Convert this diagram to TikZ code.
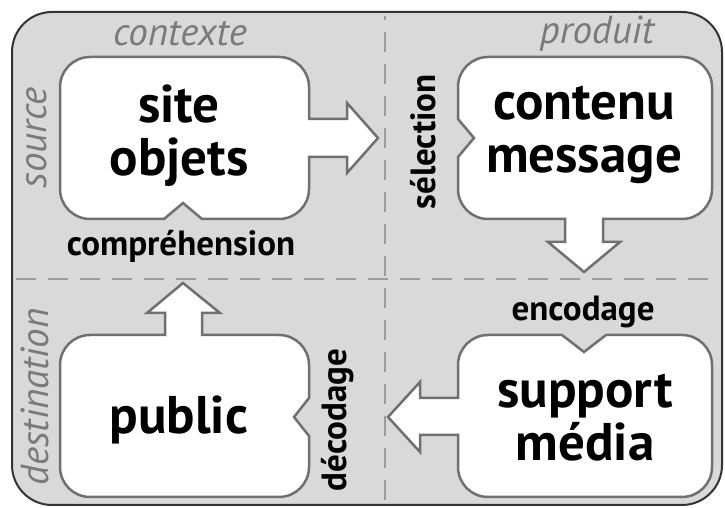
\documentclass[tikz,border=0pt]{standalone}
\usepackage{fontspec}
\setmainfont{PT Sans}
\usepackage{tikz}
\usetikzlibrary{calc}
\definecolor{panelgray}{HTML}{D9D9D9}
\definecolor{boxline}{HTML}{707070}
\definecolor{labelgray}{HTML}{7A7A7A}
\definecolor{dashgray}{HTML}{9C9C9C}
\tikzset{
  blob/.style={draw=boxline,fill=white,line width=2.5pt,line join=miter},
  bigtext/.style={font=\fontsize{53}{53}\selectfont\bfseries,align=center,inner sep=0pt},
  phase/.style={font=\fontsize{35}{37}\selectfont\bfseries,inner sep=0pt},
  zone/.style={font=\fontsize{39}{40}\selectfont\itshape,text=labelgray,inner sep=0pt}
}
\begin{document}
\begin{tikzpicture}[x=1pt,y=1pt]
\useasboundingbox (0,0) rectangle (725,508);
\draw[fill=panelgray,draw=black!80,line width=2pt,rounded corners=40pt] (12,3) rectangle (722,496);
% quadrant separators
\draw[dashgray,line width=2.5pt,dash pattern=on 20pt off 12pt] (16,229) -- (718,229);
\draw[dashgray,line width=2.5pt,dash pattern=on 20pt off 12pt] (385,8) -- (385,492);

% site / objets, arrow to the right
\draw[blob] (60,421) -- (60,319) arc[start angle=180,end angle=270,radius=30pt]
  -- (164,289) -- (183,305) -- (202,289) -- (279,289)
  arc[start angle=270,end angle=360,radius=30pt]
  -- (309,351) -- (347,351) -- (347,335) -- (378,370) -- (347,405) -- (347,389) -- (309,389)
  -- (309,421) arc[start angle=0,end angle=90,radius=30pt]
  -- (90,451) arc[start angle=90,end angle=180,radius=30pt] -- cycle;
% contenu / message, arrow down
\draw[blob] (458,421) -- (458,389) -- (474,370) -- (458,351) -- (458,319)
  arc[start angle=180,end angle=270,radius=30pt]
  -- (565,289) -- (565,266) -- (548,266) -- (584,236) -- (620,266) -- (603,266) -- (603,289)
  -- (682,289) arc[start angle=270,end angle=360,radius=30pt]
  -- (712,421) arc[start angle=0,end angle=90,radius=30pt]
  -- (488,451) arc[start angle=90,end angle=180,radius=30pt] -- cycle;
% public, arrow up
\draw[blob] (60,143) -- (60,41) arc[start angle=180,end angle=270,radius=30pt]
  -- (279,11) arc[start angle=270,end angle=360,radius=30pt]
  -- (309,72) -- (294,91) -- (309,110) -- (309,143)
  arc[start angle=0,end angle=90,radius=30pt]
  -- (202,173) -- (202,195) -- (220,195) -- (183,225) -- (147,195) -- (165,195) -- (165,173)
  -- (90,173) arc[start angle=90,end angle=180,radius=30pt] -- cycle;
% support / media, arrow to the left
\draw[blob] (458,143) -- (458,110) -- (420,110) -- (420,126) -- (388,91) -- (420,56) -- (420,73) -- (458,73)
  -- (458,41) arc[start angle=180,end angle=270,radius=30pt]
  -- (682,11) arc[start angle=270,end angle=360,radius=30pt]
  -- (712,143) arc[start angle=0,end angle=90,radius=30pt]
  -- (606,173) -- (584,156) -- (562,173)
  -- (488,173) arc[start angle=90,end angle=180,radius=30pt] -- cycle;

% texts
\node[bigtext] (site) at (179,372) {site\\objets};
\node[bigtext] (contenu) at (584,373) {contenu\\message};
\node[bigtext] (public) at (179,88) {public};
\node[bigtext] (support) at (585,90) {support\\média};

\node[zone] (contexte) at (180,474) {contexte};
\node[zone] (produit) at (597,474) {produit};
\node[zone,rotate=90] (source) at (37,370) {source};
\node[zone,rotate=90] (destination) at (35,111) {destination};

\node[phase] (comprehension) at (181,262) {compréhension};
\node[phase] (encodage) at (583,196) {encodage};
\node[phase,rotate=90] (selection) at (423,366) {sélection};
\node[phase,rotate=90] (decodage) at (338,88) {décodage};
\end{tikzpicture}
\end{document}
